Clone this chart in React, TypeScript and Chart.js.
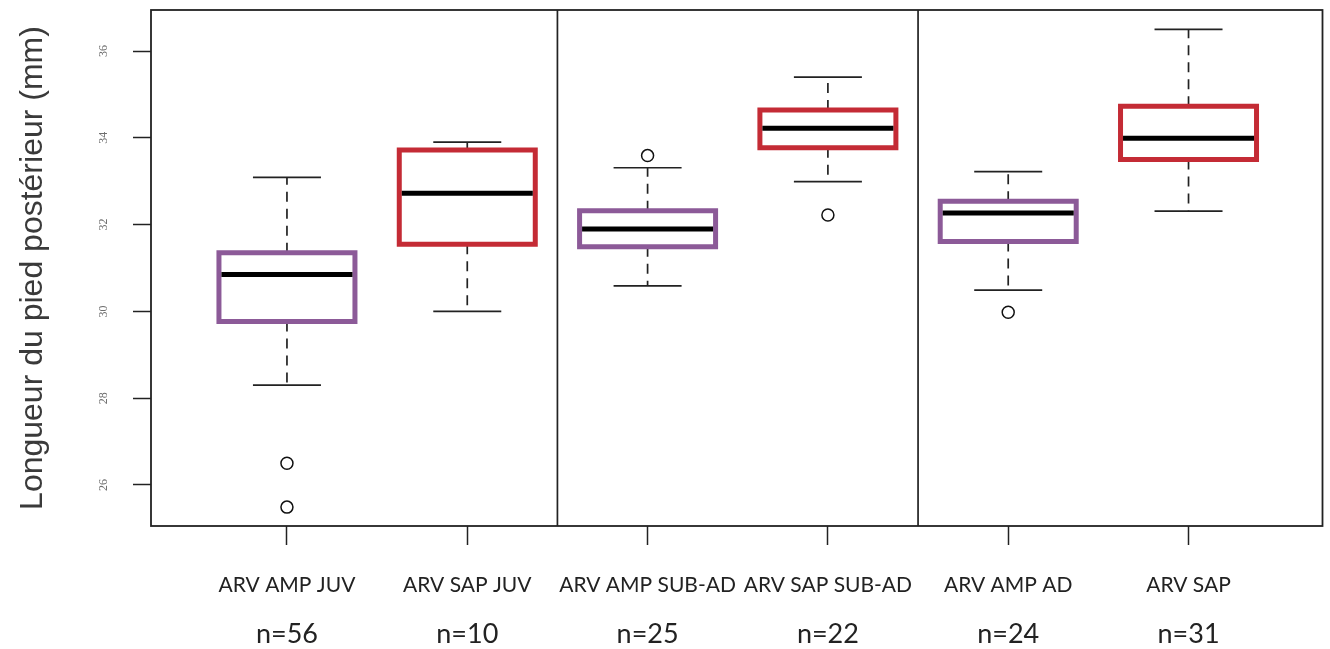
import { useEffect, useRef } from "react";
import { Chart, registerables } from "chart.js";

Chart.register(...registerables);

// ---- data ----
const categories = [
  "ARV AMP JUV",
  "ARV SAP JUV",
  "ARV AMP SUB-AD",
  "ARV SAP SUB-AD",
  "ARV AMP AD",
  "ARV SAP",
];
const sampleSizes = ["n=56", "n=10", "n=25", "n=22", "n=24", "n=31"];
const whiskerLow = [28.3, 30.0, 30.59, 32.99, 30.49, 32.31];
const q1 = [29.77, 31.55, 31.49, 33.77, 31.61, 33.5];
const median = [30.85, 32.72, 31.9, 34.22, 32.27, 33.99];
const q3 = [31.35, 33.72, 32.32, 34.64, 32.54, 34.73];
const whiskerHigh = [33.09, 33.9, 33.31, 35.4, 33.22, 36.5];
const outliers: number[][] = [[26.5, 25.49], [], [33.59], [32.22], [29.98], []];
const yTicks = [26, 28, 30, 32, 34, 36];
const groupSeparators = [2.5, 4.5];
const yTitle = "Longueur du pied postérieur (mm)";

// ---- styles ----
const PURPLE = "#8c5a98";
const RED = "#c42b35";
const boxColors = [PURPLE, RED, PURPLE, RED, PURPLE, RED];
const INK = "#222222";

const boxPlugin = {
  id: "boxplotDraw",
  beforeDatasetsDraw(chart: any) {
    const { ctx, scales } = chart;
    const xs = scales.x;
    const ys = scales.y;
    const boxHalf = 68;
    const stapleHalf = 34;
    ctx.save();
    for (let i = 0; i < categories.length; i++) {
      const cx = xs.getPixelForValue(i + 1);
      const yLo = ys.getPixelForValue(whiskerLow[i]);
      const yQ1 = ys.getPixelForValue(q1[i]);
      const yMed = ys.getPixelForValue(median[i]);
      const yQ3 = ys.getPixelForValue(q3[i]);
      const yHi = ys.getPixelForValue(whiskerHigh[i]);
      // whiskers (dashed)
      ctx.strokeStyle = INK;
      ctx.lineWidth = 1.7;
      ctx.setLineDash([10, 7]);
      ctx.beginPath();
      ctx.moveTo(cx, yQ3);
      ctx.lineTo(cx, yHi);
      ctx.moveTo(cx, yQ1);
      ctx.lineTo(cx, yLo);
      ctx.stroke();
      ctx.setLineDash([]);
      // staples
      ctx.beginPath();
      ctx.moveTo(cx - stapleHalf, yHi);
      ctx.lineTo(cx + stapleHalf, yHi);
      ctx.moveTo(cx - stapleHalf, yLo);
      ctx.lineTo(cx + stapleHalf, yLo);
      ctx.stroke();
      // box
      ctx.fillStyle = "#ffffff";
      ctx.strokeStyle = boxColors[i];
      ctx.lineWidth = 5;
      ctx.beginPath();
      ctx.rect(cx - boxHalf, yQ3, boxHalf * 2, yQ1 - yQ3);
      ctx.fill();
      ctx.stroke();
      // median
      ctx.strokeStyle = "#000000";
      ctx.lineWidth = 5;
      ctx.beginPath();
      ctx.moveTo(cx - boxHalf + 2.5, yMed);
      ctx.lineTo(cx + boxHalf - 2.5, yMed);
      ctx.stroke();
    }
    ctx.restore();
  },
  afterDraw(chart: any) {
    const { ctx, scales, chartArea } = chart;
    const xs = scales.x;
    const ys = scales.y;
    ctx.save();
    // frame
    ctx.strokeStyle = INK;
    ctx.lineWidth = 1.8;
    ctx.strokeRect(chartArea.left, chartArea.top, chartArea.right - chartArea.left, chartArea.bottom - chartArea.top);
    // group separators
    ctx.lineWidth = 1.7;
    ctx.beginPath();
    for (const s of groupSeparators) {
      const x = xs.getPixelForValue(s);
      ctx.moveTo(x, chartArea.top);
      ctx.lineTo(x, chartArea.bottom);
    }
    ctx.stroke();
    // rotated y tick labels
    ctx.fillStyle = "#6e6e6e";
    ctx.font = "12px 'Liberation Serif', serif";
    ctx.textAlign = "center";
    ctx.textBaseline = "middle";
    for (const t of yTicks) {
      const y = ys.getPixelForValue(t);
      ctx.save();
      ctx.translate(104, y);
      ctx.rotate(-Math.PI / 2);
      ctx.fillText(String(t), 0, 0);
      ctx.restore();
    }
    // sample sizes
    ctx.fillStyle = INK;
    ctx.font = "27px Lato, 'Open Sans', sans-serif";
    for (let i = 0; i < sampleSizes.length; i++) {
      const x = xs.getPixelForValue(i + 1);
      ctx.fillText(sampleSizes[i], x, 634);
    }
    ctx.restore();
  },
};

export default function App() {
  const ref = useRef<HTMLCanvasElement>(null);
  useEffect(() => {
    document.body.style.margin = "0";
    const canvas = ref.current!;
    const scatterData: { x: number; y: number }[] = [];
    outliers.forEach((arr, i) => arr.forEach((v) => scatterData.push({ x: i + 1, y: v })));
    const chart = new Chart(canvas, {
      type: "scatter",
      data: {
        datasets: [
          {
            data: scatterData,
            pointRadius: 6,
            pointHoverRadius: 6,
            borderWidth: 1.5,
            borderColor: "#111111",
            backgroundColor: "#ffffff",
            showLine: false,
          },
        ],
      },
      options: {
        animation: false,
        responsive: false,
        layout: { padding: { top: 10, right: 7, left: 0, bottom: 0 } },
        plugins: { legend: { display: false }, tooltip: { enabled: false } },
        scales: {
          x: {
            type: "linear",
            min: 0.246,
            max: 6.743,
            afterBuildTicks: (scale: any) => {
              scale.ticks = categories.map((_, i) => ({ value: i + 1 }));
            },
            afterFit: (scale: any) => {
              scale.height = 123;
            },
            ticks: {
              autoSkip: false,
              maxRotation: 0,
              padding: 28,
              color: INK,
              font: { family: "Lato, 'Open Sans', sans-serif", size: 21 },
              callback: (v: any) => categories[Number(v) - 1] ?? "",
            },
            grid: {
              drawOnChartArea: false,
              drawTicks: true,
              tickLength: 19,
              tickColor: INK,
              tickWidth: 1.5,
            },
            border: { display: false },
          },
          y: {
            type: "linear",
            min: 25.055,
            max: 36.945,
            afterBuildTicks: (scale: any) => {
              scale.ticks = yTicks.map((v) => ({ value: v }));
            },
            afterFit: (scale: any) => {
              scale.width = 151;
            },
            ticks: { display: false },
            grid: {
              drawOnChartArea: false,
              drawTicks: true,
              tickLength: 18,
              tickColor: INK,
              tickWidth: 1.5,
            },
            border: { display: false },
            title: {
              display: true,
              text: yTitle,
              color: "#3a3a3a",
              font: { family: "'Liberation Sans', Arial, sans-serif", size: 32 },
              padding: { top: 14, bottom: 0 },
            },
          },
        },
      },
      plugins: [boxPlugin],
    });
    return () => chart.destroy();
  }, []);
  return <canvas ref={ref} width={1330} height={649} style={{ display: "block" }} />;
}
